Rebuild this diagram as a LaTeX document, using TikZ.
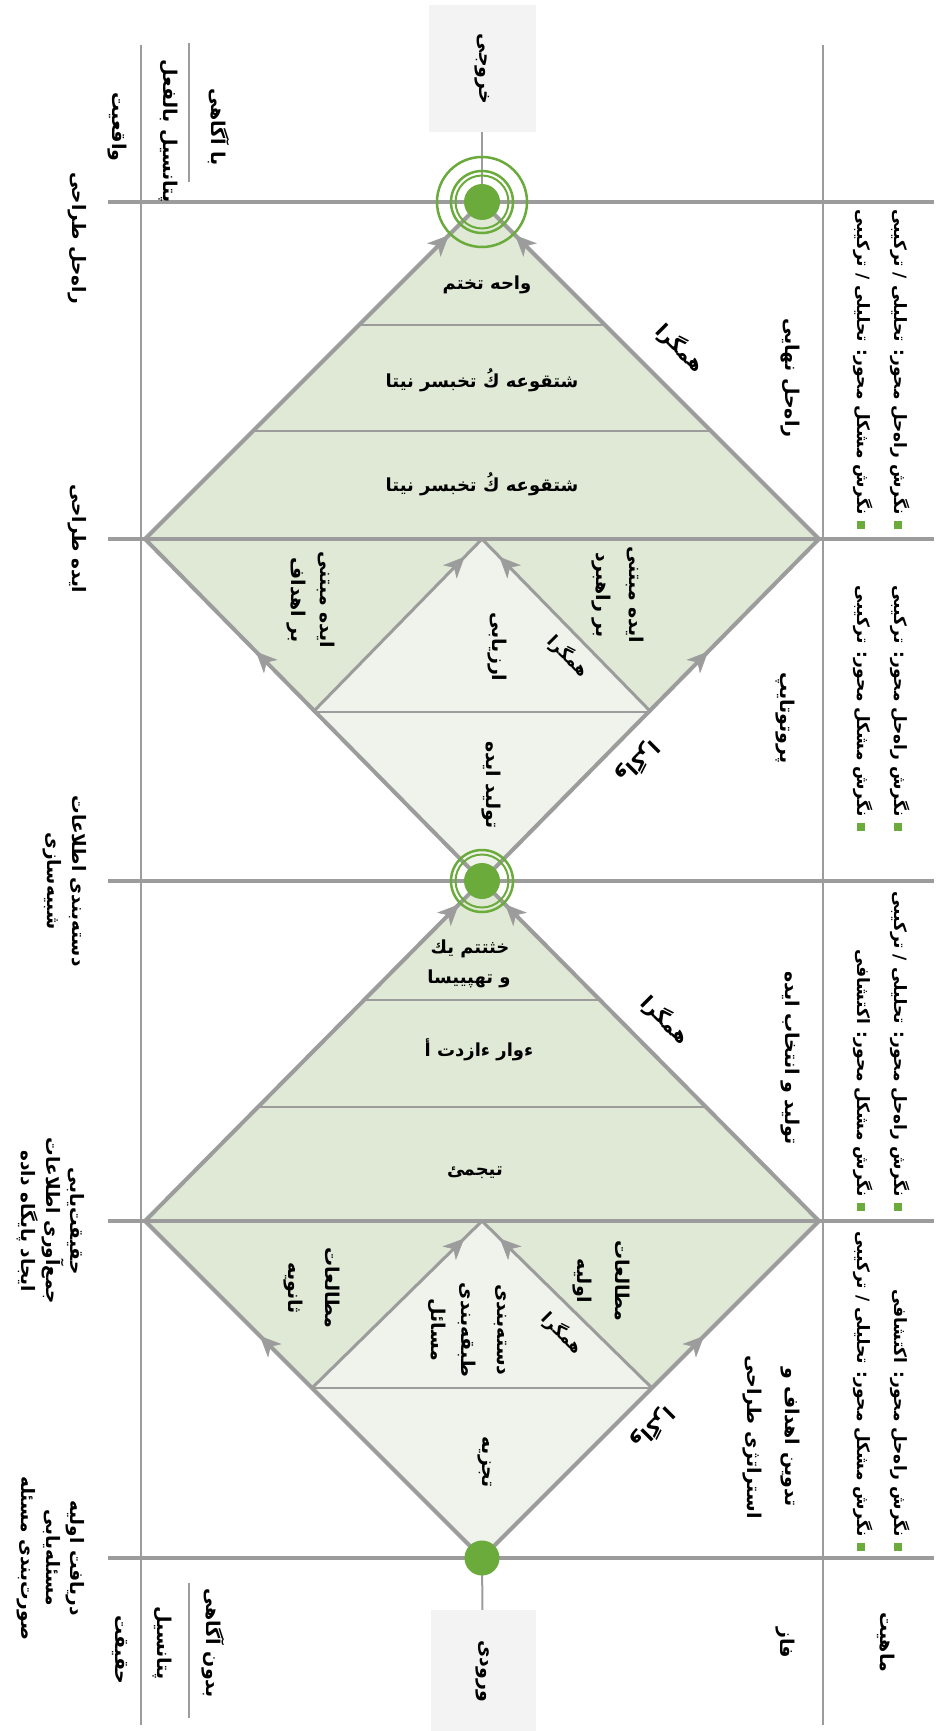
\documentclass[tikz,border=0pt]{standalone}
\usepackage{fontspec}
\usetikzlibrary{arrows.meta,decorations.markings}
\newfontfamily\farsi[Script=Arabic]{DejaVu Sans}
\TeXXeTstate=1
\newcommand{\fatx}[1]{\beginR #1\endR}
\definecolor{lgray}{HTML}{9C9C9C}
\definecolor{gfill}{HTML}{DFE9D5}
\definecolor{lfill}{HTML}{F0F3EC}
\definecolor{gdot}{HTML}{6AAB3C}
\definecolor{boxfill}{HTML}{F3F3F3}
\tikzset{
  lbl/.style={rotate=-90,inner sep=0pt,align=center,font=\farsi\bfseries\fontsize{19}{24}\selectfont},
  lblsm/.style={rotate=-90,inner sep=0pt,align=center,font=\farsi\bfseries\fontsize{18.5}{24.5}\selectfont},
  bul/.style={rotate=-90,inner sep=0pt,anchor=east,font=\farsi\bfseries\fontsize{17}{22}\selectfont},
  bsq/.style={fill=gdot,inner sep=0pt,minimum size=8pt},
  elbl/.style={inner sep=0pt,font=\farsi\bfseries\fontsize{20}{24}\selectfont},
  elblin/.style={inner sep=0pt,font=\farsi\bfseries\fontsize{17}{22}\selectfont},
  garb/.style={inner sep=0pt,font=\farsi\bfseries\fontsize{18}{22}\selectfont},
  phaseline/.style={draw=lgray,line width=4pt},
  vline/.style={draw=lgray,line width=2.5pt},
  sepline/.style={draw=lgray,line width=2pt},
  outeredge/.style={draw=lgray,line width=4pt},
  inneredge/.style={draw=lgray,line width=3pt},
  bandline/.style={draw=lgray,line width=2.5pt},
  stemline/.style={draw=lgray,line width=2pt},
  arrowat/.style={postaction={decorate,decoration={markings,mark=at position #1 with {\arrow[lgray]{Stealth[length=21pt,width=19pt,inset=6pt,line width=0.5pt]}}}}},
  iobox/.style={fill=boxfill,draw=none,rotate=-90,inner sep=0pt,font=\farsi\bfseries\fontsize{19}{24}\selectfont},
  ringA/.style={circle,draw=gdot,line width=2.5pt,inner sep=0pt},
  dotc/.style={circle,fill=gdot,inner sep=0pt,minimum size=36pt},
}
\begin{document}
\begin{tikzpicture}[x=1pt,y=-1pt]
\useasboundingbox (0,0) rectangle (939,1731);
\fill[white] (0,0) rectangle (939,1731);

% key points
\coordinate (B1) at (482,1558);
\coordinate (L1) at (145,1221);
\coordinate (R1) at (819,1221);
\coordinate (T1) at (482,881);
\coordinate (M1) at (482,1221);
\coordinate (BL1) at (312,1388);
\coordinate (BR1) at (652,1388);
\coordinate (B2) at (482,881);
\coordinate (L2) at (145,539);
\coordinate (R2) at (819,539);
\coordinate (T2) at (482,202);
\coordinate (M2) at (482,539);
\coordinate (BL2) at (313,712);
\coordinate (BR2) at (651,712);

% fills
\fill[gfill] (B1) -- (L1) -- (T1) -- (R1) -- cycle;
\fill[lfill] (B1) -- (BL1) -- (BR1) -- cycle;
\fill[lfill] (BL1) -- (M1) -- (BR1) -- cycle;
\fill[gfill] (B2) -- (L2) -- (T2) -- (R2) -- cycle;
\fill[lfill] (B2) -- (BL2) -- (BR2) -- cycle;
\fill[lfill] (BL2) -- (M2) -- (BR2) -- cycle;

% grid
\draw[vline] (141,45) -- (141,1725);
\draw[vline] (823,45) -- (823,1725);
\draw[sepline] (189,43) -- (189,182);
\draw[sepline] (189,1583) -- (189,1718);
\foreach \yy in {202,539,881,1221,1558} {\draw[phaseline] (108,\yy) -- (934,\yy);}

% band lines
\draw[bandline] (256,1107) -- (708,1107);
\draw[bandline] (363,1000) -- (601,1000);
\draw[bandline] (253,431) -- (711,431);
\draw[bandline] (359,325) -- (605,325);
\draw[bandline] (BL1) -- (BR1);
\draw[bandline] (BL2) -- (BR2);

% inner triangle edges
\draw[inneredge,arrowat=-25pt] (BL1) -- (M1);
\draw[inneredge,arrowat=-25pt] (BR1) -- (M1);
\draw[inneredge,arrowat=-25pt] (BL2) -- (M2);
\draw[inneredge,arrowat=-25pt] (BR2) -- (M2);

% outer edges
\draw[outeredge,arrowat=314pt] (B1) -- (L1);
\draw[outeredge,arrowat=314pt] (B1) -- (R1);
\draw[outeredge,arrowat=-33pt] (L1) -- (T1);
\draw[outeredge,arrowat=-33pt] (R1) -- (T1);
\draw[outeredge,arrowat=322pt] (B2) -- (L2);
\draw[outeredge,arrowat=322pt] (B2) -- (R2);
\draw[outeredge,arrowat=-47pt] (L2) -- (T2);
\draw[outeredge,arrowat=-47pt] (R2) -- (T2);

% input / output boxes
\coordinate (inc) at (483,1671);
\coordinate (outc) at (482,69);
\draw[stemline] (inc) -- (B1);
\draw[stemline] (outc) -- (T2);
\node[iobox,minimum width=122pt,minimum height=105pt] (inbox) at (inc) {\fatx{ورودی}};
\node[iobox,minimum width=127pt,minimum height=107pt] (outbox) at (outc) {\fatx{خروجی}};

% circles
\node[dotc,minimum size=35pt] (indot) at (B1) {};
\node[ringA,minimum size=62pt] (midringa) at (B2) {};
\node[ringA,line width=2pt,minimum size=53pt] (midringb) at (B2) {};
\node[dotc] (middot) at (B2) {};
\node[ringA,minimum size=90pt] (topringo) at (T2) {};
\node[ringA,minimum size=62pt] (topringa) at (T2) {};
\node[ringA,line width=2pt,minimum size=53pt] (topringb) at (T2) {};
\node[dotc] (topdot) at (T2) {};

% right column
\node[lbl] (mahiyat) at (886,1642) {\fatx{ماهیت}};
\node[bsq] (q1a) at (898,1547) {};
\node[bsq] (q1b) at (861,1547) {};
\node[bsq] (q2a) at (898,1207) {};
\node[bsq] (q2b) at (861,1207) {};
\node[bsq] (q3a) at (898,827) {};
\node[bsq] (q3b) at (861,827) {};
\node[bsq] (q4a) at (898,525) {};
\node[bsq] (q4b) at (861,525) {};
\node[bul] (p1a) at (900,1537) {\fatx{نگرش راه‌حل محور: اکتشافی}};
\node[bul] (p1b) at (863,1537) {\fatx{نگرش مشکل محور: تحلیلی / ترکیبی}};
\node[bul] (p2a) at (900,1197) {\fatx{نگرش راه‌حل محور: تحلیلی / ترکیبی}};
\node[bul] (p2b) at (863,1197) {\fatx{نگرش مشکل محور: اکتشافی}};
\node[bul] (p3a) at (900,817) {\fatx{نگرش راه‌حل محور: ترکیبی}};
\node[bul] (p3b) at (863,817) {\fatx{نگرش مشکل محور: ترکیبی}};
\node[bul] (p4a) at (900,515) {\fatx{نگرش راه‌حل محور: تحلیلی / ترکیبی}};
\node[bul] (p4b) at (863,515) {\fatx{نگرش مشکل محور: تحلیلی / ترکیبی}};

% phase column
\node[lbl] (faz) at (785,1643) {\fatx{فاز}};
\node[lbl] (ph1a) at (790,1437) {\fatx{تدوین اهداف و}};
\node[lbl] (ph1b) at (752,1437) {\fatx{استراتژی طراحی}};
\node[lbl] (ph2) at (790,1058) {\fatx{تولید و انتخاب ایده}};
\node[lbl] (ph3) at (785,718) {\fatx{پروتوتایپ}};
\node[lbl] (ph4) at (790,378) {\fatx{راه‌حل نهایی}};

% left column
\node[lbl] (haghighat) at (120,1650) {\fatx{حقیقت}};
\node[lbl] (bedoon) at (213,1643) {\fatx{بدون آگاهی}};
\node[lbl] (potA) at (162,1643) {\fatx{پتانسیل}};
\node[lbl] (baagahi) at (219,127) {\fatx{با آگاهی}};
\node[lbl] (potB) at (168,131) {\fatx{پتانسیل بالفعل}};
\node[lbl] (vaghei) at (117,127) {\fatx{واقعیت}};
\node[lblsm] (s0) at (51,1558) {\fatx{دریافت اولیه}\\\fatx{مسئله‌یابی}\\\fatx{صورت‌بندی مسئله}};
\node[lblsm] (s1) at (51,1221) {\fatx{حقیقت‌یابی}\\\fatx{جمع‌آوری اطلاعات}\\\fatx{ایجاد پایگاه داده}};
\node[lblsm] (s2) at (65,881) {\fatx{دسته‌بندی اطلاعات}\\\fatx{شبیه‌سازی}};
\node[lblsm] (s3) at (77,539) {\fatx{ایده طراحی}};
\node[lblsm] (s4) at (77,238) {\fatx{راه‌حل طراحی}};

% phase 1 content
\node[lbl] (tajzie) at (485,1462) {\fatx{تجزیه}};
\node[lbl] (motA1) at (622,1281) {\fatx{مطالعات}};
\node[lbl] (motA2) at (582,1281) {\fatx{اولیه}};
\node[lbl] (motB1) at (332,1288) {\fatx{مطالعات}};
\node[lbl] (motB2) at (293,1288) {\fatx{ثانویه}};
\node[lbl] (dast1) at (500,1330) {\fatx{دسته‌بندی}};
\node[lbl] (dast2) at (467,1330) {\fatx{طبقه‌بندی}};
\node[lbl] (dast3) at (437,1330) {\fatx{مسائل}};
\node[elbl,rotate=-135] (vag1) at (653,1428) {\fatx{واگرا}};
\node[elblin,rotate=-45] (ham1i) at (562,1333) {\fatx{همگرا}};
\node[elbl,rotate=-45] (ham1) at (665,1020) {\fatx{همگرا}};
\node[garb] (g1a) at (475,1173) {\fatx{تيجمئ}};
\node[garb] (g1b) at (479,1050) {\fatx{ءوار ءازدت أ}};
\node[garb] (g1c) at (470,949) {\fatx{خثتتم يك}};
\node[garb] (g1d) at (469,979) {\fatx{و تهپييسا}};

% phase 2 content
\node[lbl] (tolid) at (491,785) {\fatx{تولید ایده}};
\node[lbl] (ideA1) at (635,595) {\fatx{ایده مبتنی}};
\node[lbl] (ideA2) at (601,595) {\fatx{بر راهبرد}};
\node[lbl] (ideB1) at (326,600) {\fatx{ایده مبتنی}};
\node[lbl] (ideB2) at (296,600) {\fatx{بر اهداف}};
\node[lbl] (arzyabi) at (497,647) {\fatx{ارزیابی}};
\node[elbl,rotate=-135] (vag2) at (638,762) {\fatx{واگرا}};
\node[elblin,rotate=-45] (ham2i) at (568,656) {\fatx{همگرا}};
\node[elbl,rotate=-45] (ham2) at (680,348) {\fatx{همگرا}};
\node[garb] (g2a) at (482,484) {\fatx{شتقوعه كُ تخبسر نيتا}};
\node[garb] (g2b) at (482,380) {\fatx{شتقوعه كُ تخبسر نيتا}};
\node[garb] (g2c) at (487,285) {\fatx{واحه تختم}};
\end{tikzpicture}
\end{document}
